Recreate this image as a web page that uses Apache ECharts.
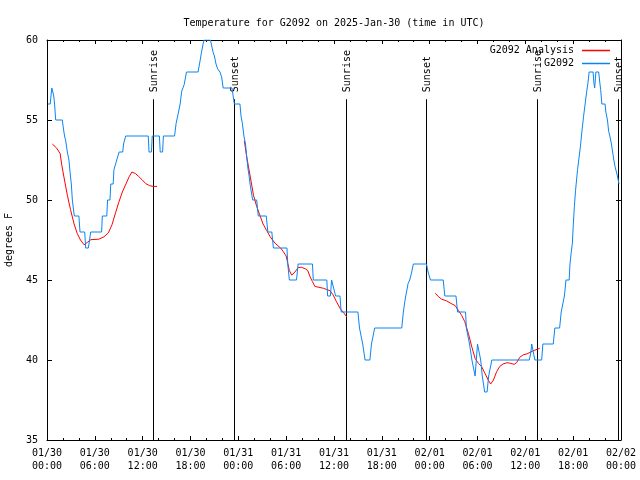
<!DOCTYPE html>
<html>
<head>
<meta charset="utf-8">
<script src="https://cdn.jsdelivr.net/npm/echarts@6/dist/echarts.min.js"></script>
<style>html,body{margin:0;padding:0;background:#fff}#c{width:640px;height:480px}</style>
</head>
<body>
<div id="c"></div>
<script>
// Hours since 2025-01-30 00:00 UTC, temperature in degrees F
var obsTimes = [0.13,0.4,0.5,0.6,0.7,0.85,0.95,1.09,1.92,2.05,2.2,2.35,2.55,2.75,2.9,3.05,3.18,3.3,3.43,4.0,4.14,4.73,4.85,5.19,5.48,6.85,6.94,7.5,7.6,7.9,8.0,8.3,8.4,8.6,8.75,8.9,9.05,9.5,9.6,9.87,12.7,12.8,13.1,13.2,14.1,14.2,14.5,14.6,16.0,16.2,16.5,16.7,16.9,17.2,17.5,18.95,19.2,19.4,19.6,19.7,20.5,20.85,21.0,21.2,21.4,21.7,21.9,22.1,23.2,23.35,23.5,24.2,24.35,24.5,24.7,24.9,25.05,25.2,25.35,25.5,25.8,26.3,26.5,27.5,27.7,28.2,28.4,30.1,30.2,30.4,31.3,31.5,33.3,33.4,35.1,35.2,35.55,35.7,35.95,36.2,36.75,36.9,39.0,39.2,39.4,39.6,39.9,40.5,40.7,40.9,41.1,44.5,44.7,44.9,45.0,45.3,45.5,45.75,45.95,47.6,47.8,48.1,49.7,49.9,51.3,51.5,52.5,52.6,53.0,53.3,53.7,54.0,54.2,54.4,54.6,54.9,55.2,55.4,55.8,60.5,60.7,60.8,61.0,61.2,62.05,62.2,63.5,63.7,64.3,64.5,64.9,65.1,65.5,65.6,65.75,65.9,66.0,66.15,66.3,66.55,66.7,66.9,67.1,67.3,67.5,67.7,67.85,68.0,68.5,68.6,68.7,68.85,69.2,69.35,69.45,69.6,70.0,70.1,70.3,70.45,70.6,70.8,70.95,71.1,71.25,71.4,71.55,71.75];
var obsTemps = [56,56,56.5,57,57,56.5,56,55,55,54.5,54,53.7,53,52.5,51.7,51,50,49.5,49,49,48,48,47,47,48,48,49,49,50,50,51,51,51.9,52,52.5,52.5,53,53,53.5,54,54,53,53,54,54,53,53,54,54,54.8,55.5,56,56.8,57.2,58,58,58.7,59.3,59.8,60,60,59.2,59,58.5,58.2,58,57.7,57,57,56.5,56,56,55.2,54.8,54,53.5,52.7,52,51.5,50.9,50,50,49,49,48,48,47,47,46,45,45,46,46,45,45,44,44,45,45,44,44,43,43,42,41.5,41,40,40,41,41.5,42,42,43,43.7,44,44.8,45,45.5,46,46,45.5,45,45,44,44,43,43,42,41,40,39,41,41,40,39,38,38,39,40,40,40.5,41,41,40,40,41,41,42,42,43,44,45,45,46,46.7,47.3,48.3,49.6,50.6,51.9,52.5,53.3,54.3,55.2,56,56.8,57.3,58,58,57.3,57,58,58,57.3,56.9,56,56,55.5,55,54.3,54,53.5,53,52.5,52.1,52,51.5,51];

// Analysis: three segments separated by gaps (null)
var anaTimes = [0.67,1.2,1.65,1.85,2.1,2.55,2.95,3.4,3.8,4.2,4.65,5.05,5.5,6.5,7.15,7.7,8.15,8.6,9.0,9.45,9.9,10.3,10.65,11.1,11.5,11.95,12.4,12.85,13.3,13.8,
  19.0,
  24.75,25.05,25.5,25.9,26.3,26.7,27.1,27.55,28.0,28.6,29.3,29.6,30.0,30.2,30.4,30.7,31.1,31.5,31.9,32.4,32.7,33.0,33.3,33.6,33.8,34.7,35.1,35.5,35.9,36.3,36.8,37.2,37.6,
  43.0,
  48.7,49.1,49.5,50.1,50.8,51.2,51.6,52.0,52.4,52.85,53.3,53.7,54.1,54.5,54.9,55.35,55.65,56.0,56.4,56.8,57.2,57.7,58.1,58.6,58.9,59.3,59.75,60.2,60.6,61.0,61.5,61.8];
var anaTemps = [53.5,53.25,52.9,52.2,51.5,50.3,49.4,48.5,47.9,47.5,47.2,47.35,47.52,47.55,47.7,47.95,48.45,49.2,49.85,50.5,51.0,51.45,51.75,51.65,51.47,51.25,51.02,50.9,50.85,50.85,
  null,
  53.7,52.7,51.45,50.3,49.6,49.05,48.5,48.1,47.7,47.3,47.0,46.8,46.5,46.05,45.6,45.3,45.5,45.77,45.8,45.7,45.6,45.2,44.9,44.6,44.54,44.48,44.4,44.33,44.06,43.65,43.2,42.96,42.7,
  null,
  44.17,43.96,43.8,43.7,43.5,43.4,43.1,42.8,42.4,41.67,40.8,40.1,39.8,39.6,39.2,38.75,38.5,38.75,39.27,39.6,39.75,39.83,39.8,39.73,39.83,40.17,40.33,40.38,40.48,40.58,40.67,40.73];

var sunTimes = [13.34, 23.5, 37.45, 47.6, 61.42, 71.62];
var sunLabels = ["Sunrise","Sunset","Sunrise","Sunset","Sunrise","Sunset"];

var xTickLabels = ["01/30\n00:00","01/30\n06:00","01/30\n12:00","01/30\n18:00","01/31\n00:00","01/31\n06:00","01/31\n12:00","01/31\n18:00","02/01\n00:00","02/01\n06:00","02/01\n12:00","02/01\n18:00","02/02\n00:00"];
var seriesNames = ["G2092 Analysis","G2092"];

var FONT = '"DejaVu Sans Mono", monospace';
function zip(a, b) { return a.map(function (t, i) { return [t, b[i]]; }); }

var chart = echarts.init(document.getElementById('c'), null, {renderer: 'canvas'});
var axisCommon = {
  type: 'value',
  axisLine: {show: true, onZero: false, lineStyle: {color: '#000', width: 1}},
  splitLine: {show: false}
};
chart.setOption({
  animation: false,
  backgroundColor: '#fff',
  title: {
    text: 'Temperature for G2092 on 2025-Jan-30 (time in UTC)',
    left: 329, top: 13, textAlign: 'center',
    textStyle: {fontFamily: FONT, fontSize: 10, fontWeight: 'normal', color: '#000'}
  },
  legend: {
    data: seriesNames,
    orient: 'vertical', align: 'right',
    right: 30, top: 44, padding: 0, itemGap: 0,
    icon: 'rect', itemWidth: 28, itemHeight: 1.5,
    textStyle: {fontFamily: FONT, fontSize: 10, color: '#000', lineHeight: 13, padding: [0, 3, 0, 0]}
  },
  grid: {left: 47, right: 19, top: 40, bottom: 40, containLabel: false, outerBoundsMode: 'none'},
  xAxis: [
    Object.assign({}, axisCommon, {
      position: 'bottom', min: 0, max: 72, interval: 6,
      axisTick: {show: true, inside: true, length: 4, lineStyle: {color: '#000'}},
      minorTick: {show: true, splitNumber: 3, length: 2, lineStyle: {color: '#000'}},
      axisLabel: {
        margin: 7, fontFamily: FONT, fontSize: 10, color: '#000', lineHeight: 13,
        hideOverlap: false,
        formatter: function (v) { return xTickLabels[Math.round(v / 6)] || ''; }
      }
    }),
    Object.assign({}, axisCommon, {
      position: 'top', min: 0, max: 72, interval: 6,
      axisTick: {show: true, inside: true, length: 4, lineStyle: {color: '#000'}},
      minorTick: {show: true, splitNumber: 3, length: 2, lineStyle: {color: '#000'}},
      axisLabel: {show: false}
    })
  ],
  yAxis: [
    Object.assign({}, axisCommon, {
      position: 'left', min: 35, max: 60, interval: 5,
      name: 'degrees F', nameLocation: 'middle', nameGap: 33, nameRotate: 90,
      nameTextStyle: {fontFamily: FONT, fontSize: 10, color: '#000'},
      axisTick: {show: true, inside: true, length: 5, lineStyle: {color: '#000'}},
      axisLabel: {margin: 9, fontFamily: FONT, fontSize: 10, color: '#000'}
    }),
    Object.assign({}, axisCommon, {
      position: 'right', min: 35, max: 60, interval: 5,
      axisTick: {show: true, inside: true, length: 5, lineStyle: {color: '#000'}},
      axisLabel: {show: false}
    })
  ],
  series: [
    {
      type: 'custom', name: 'sun', silent: true, z: 1,
      data: sunTimes.map(function (t) { return [t, 35]; }),
      renderItem: function (params, api) {
        var t = api.value(0);
        var p0 = api.coord([t, 35]);
        var p1 = api.coord([t, 56.3]);
        var x = Math.round(p0[0]) + 0.5;
        return {
          type: 'group',
          children: [
            {type: 'line', shape: {x1: x, y1: p0[1], x2: x, y2: p1[1]},
             style: {stroke: '#000', lineWidth: 1}},
            {type: 'text', x: x + 1, y: p1[1] - 7, rotation: Math.PI / 2,
             style: {text: sunLabels[params.dataIndex], fill: '#000',
                     font: '10px ' + FONT, align: 'left', verticalAlign: 'middle'}}
          ]
        };
      }
    },
    {
      type: 'line', name: seriesNames[0], z: 2,
      data: zip(anaTimes, anaTemps), connectNulls: false,
      showSymbol: false, symbol: 'none',
      lineStyle: {color: '#ff0000', width: 1}, itemStyle: {color: '#ff0000'}
    },
    {
      type: 'line', name: seriesNames[1], z: 3,
      data: zip(obsTimes, obsTemps),
      showSymbol: false, symbol: 'none',
      lineStyle: {color: '#0a84f2', width: 1}, itemStyle: {color: '#0a84f2'}
    }
  ]
});
</script>
</body>
</html>
